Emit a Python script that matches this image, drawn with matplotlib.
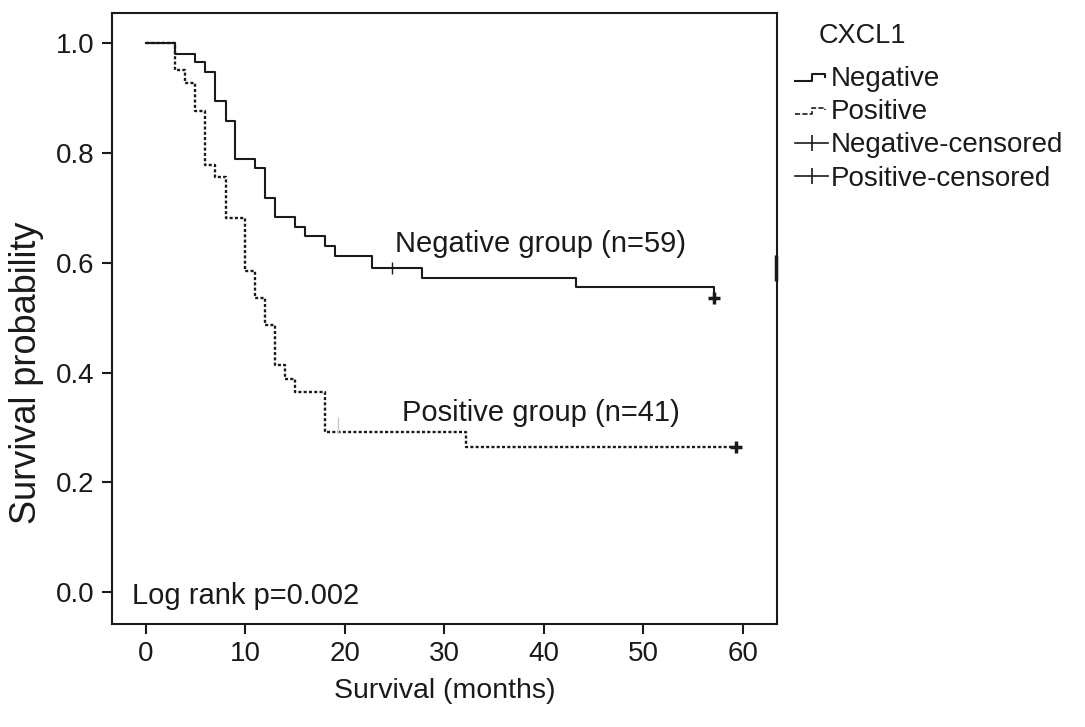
import matplotlib
matplotlib.use("Agg")
import matplotlib.pyplot as plt
from matplotlib.lines import Line2D
from matplotlib.legend_handler import HandlerBase

plt.rcParams['font.family'] = ['Liberation Sans', 'DejaVu Sans']
plt.rcParams['lines.scale_dashes'] = False

# Kaplan-Meier steps (months, survival probability)
neg_t = [0, 2.9, 4.9, 5.9, 6.9, 8.0, 9.0, 11.0, 12.0, 13.0, 15.0, 16.0,
         18.0, 19.0, 22.7, 27.8, 43.2, 57.1]
neg_s = [1.0, 0.981, 0.965, 0.947, 0.894, 0.859, 0.789, 0.773, 0.718,
         0.684, 0.666, 0.648, 0.631, 0.613, 0.591, 0.573, 0.556, 0.536]
pos_t = [0, 2.9, 3.9, 4.9, 5.9, 6.9, 8.0, 10.0, 11.0, 12.0, 13.0, 14.0,
         15.0, 18.0, 32.2, 59.3]
pos_s = [1.0, 0.951, 0.927, 0.877, 0.779, 0.756, 0.682, 0.585, 0.535,
         0.486, 0.414, 0.388, 0.365, 0.291, 0.265, 0.265]

# censored marks
neg_cens_t = [24.7]
neg_cens_s = [0.591]
neg_end_t = [57.1]
neg_end_s = [0.536]
neg_edge_t = [63.4]
neg_edge_s = [0.59]
pos_cens_t = [19.3]
pos_cens_s = [0.305]
pos_end_t = [59.3]
pos_end_s = [0.265]

x_ticks = [0, 10, 20, 30, 40, 50, 60]
y_ticks = [0.0, 0.2, 0.4, 0.6, 0.8, 1.0]
group_labels = ['Negative', 'Positive', 'Negative-censored', 'Positive-censored']

INK = '#1a1a1a'


class StepHandler(HandlerBase):
    # draws the little step icon used by SPSS legends
    def create_artists(self, legend, orig_handle, xdescent, ydescent,
                       width, height, fontsize, trans):
        x0 = -xdescent
        y0 = -ydescent
        xs = [x0, x0 + 0.5 * width, x0 + 0.5 * width, x0 + 0.9 * width, x0 + 0.9 * width]
        ys = [y0 + 0.25 * height, y0 + 0.25 * height, y0 + 0.6 * height,
              y0 + 0.6 * height, y0 + 0.45 * height]
        line = Line2D(xs, ys, color=orig_handle.get_color(),
                      lw=orig_handle.get_linewidth(),
                      ls=orig_handle.get_linestyle())
        line.set_transform(trans)
        return [line]


fig = plt.figure(figsize=(10.85, 7.27), dpi=100)
ax = fig.add_axes([0.1032, 0.1417, 0.6129, 0.8404])

ax.step(pos_t, pos_s, where='post', color=INK, lw=1.7, dashes=(2.2, 1.6), zorder=2)
ax.step(neg_t, neg_s, where='post', color=INK, lw=1.5, zorder=3)

ax.plot(neg_cens_t, neg_cens_s, ls='none', marker='|', ms=8, mew=1.0, color=INK)
ax.plot(neg_end_t, neg_end_s, ls='none', marker='+', ms=9, mew=2.5, color=INK)
ax.plot(neg_edge_t, neg_edge_s, ls='none', marker='|', ms=19, mew=2.5,
        color=INK, clip_on=False)
ax.plot(pos_cens_t, pos_cens_s, ls='none', marker='|', ms=11, mew=1.0, color='#c8c8c8')
ax.plot(pos_end_t, pos_end_s, ls='none', marker='+', ms=9, mew=2.5, color=INK)

ax.text(25.0, 0.62, 'Negative group (n=59)', fontsize=21, color=INK)
ax.text(25.7, 0.312, 'Positive group (n=41)', fontsize=21, color=INK)
ax.text(-1.45, -0.021, 'Log rank p=0.002', fontsize=21, color=INK)

ax.set_xlim(-3.42, 63.45)
ax.set_ylim(-0.058, 1.055)
ax.set_xticks(x_ticks)
ax.set_yticks(y_ticks)
ax.set_yticklabels(['%.1f' % v for v in y_ticks])
ax.tick_params(axis='both', labelsize=20, length=7.5, width=1.5, color=INK,
               labelcolor=INK)
ax.tick_params(axis='y', pad=5)
ax.tick_params(axis='x', pad=5)
for sp in ax.spines.values():
    sp.set_linewidth(1.5)
    sp.set_color(INK)

ax.set_xlabel('Survival (months)', fontsize=20.5, color=INK, labelpad=8)
ax.set_ylabel('Survival probability', fontsize=26, color=INK)
ax.yaxis.set_label_coords(-0.102, 0.412)

handles = [Line2D([], [], color=INK, lw=1.5),
           Line2D([], [], color=INK, lw=1.2, ls=(0, (2.0, 1.5))),
           Line2D([], [], color=INK, lw=1.2, marker='|', ms=11, mew=1.2),
           Line2D([], [], color=INK, lw=1.2, marker='|', ms=11, mew=1.2)]
leg = fig.legend(handles, group_labels, loc='upper left',
                 bbox_to_anchor=(795 / 1085, 1 - 66 / 727), frameon=False,
                 fontsize=20, handlelength=1.2, handletextpad=0.1,
                 labelspacing=0.26, borderpad=0, borderaxespad=0,
                 handler_map={handles[0]: StepHandler(), handles[1]: StepHandler()})
for t in leg.get_texts():
    t.set_color(INK)
fig.text(819 / 1085, 1 - 36 / 727, 'CXCL1', fontsize=19.5, color=INK, va='center')

fig.savefig('out.png', dpi=100)
